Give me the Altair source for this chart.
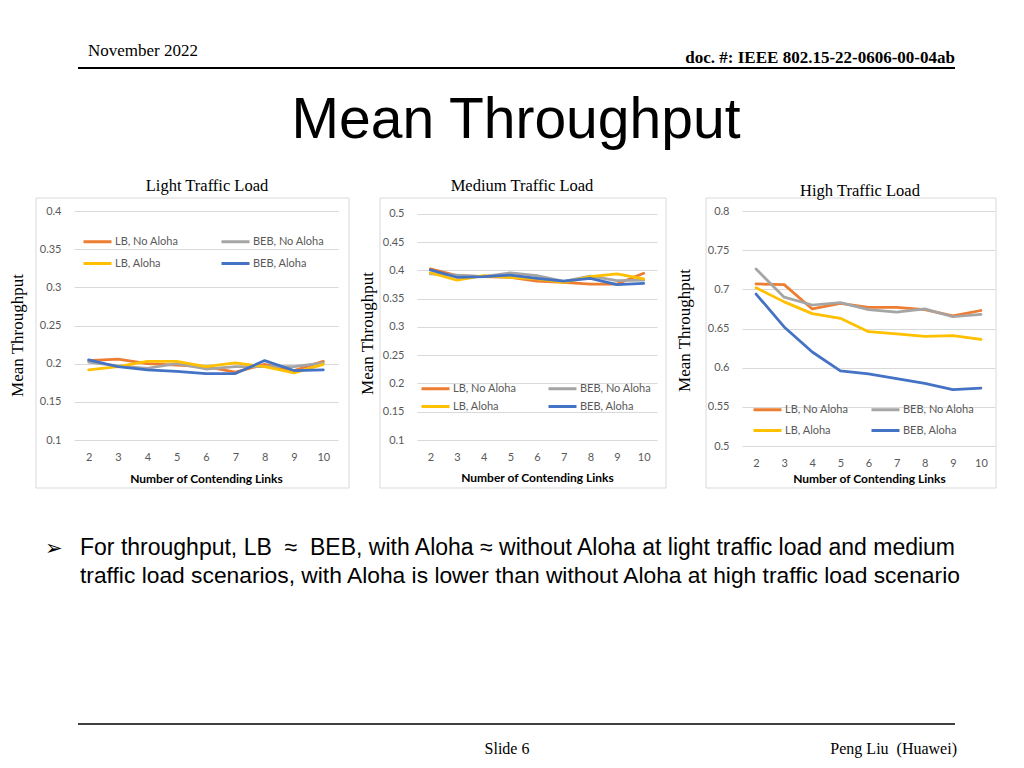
import altair as alt
import pandas as pd

links = [2, 3, 4, 5, 6, 7, 8, 9, 10]
series = ["LB, No Aloha", "BEB, No Aloha", "LB, Aloha", "BEB, Aloha"]
colors = ["#ED7D31", "#A5A5A5", "#FFC000", "#4472C4"]

light_lb_noaloha = [0.204, 0.206, 0.200, 0.198, 0.196, 0.189, 0.199, 0.191, 0.203]
light_beb_noaloha = [0.202, 0.197, 0.194, 0.200, 0.193, 0.196, 0.196, 0.196, 0.201]
light_lb_aloha = [0.192, 0.196, 0.203, 0.203, 0.196, 0.201, 0.196, 0.188, 0.199]
light_beb_aloha = [0.205, 0.196, 0.192, 0.190, 0.187, 0.187, 0.204, 0.191, 0.192]

medium_lb_noaloha = [0.403, 0.391, 0.389, 0.388, 0.381, 0.379, 0.376, 0.376, 0.395]
medium_beb_noaloha = [0.394, 0.392, 0.389, 0.396, 0.391, 0.381, 0.390, 0.382, 0.383]
medium_lb_aloha = [0.396, 0.383, 0.391, 0.388, 0.385, 0.379, 0.389, 0.394, 0.385]
medium_beb_aloha = [0.401, 0.388, 0.389, 0.392, 0.386, 0.381, 0.386, 0.375, 0.377]

high_lb_noaloha = [0.707, 0.706, 0.675, 0.682, 0.677, 0.677, 0.674, 0.666, 0.673]
high_beb_noaloha = [0.726, 0.690, 0.680, 0.683, 0.674, 0.671, 0.675, 0.665, 0.668]
high_lb_aloha = [0.702, 0.684, 0.669, 0.663, 0.646, 0.643, 0.640, 0.641, 0.636]
high_beb_aloha = [0.694, 0.652, 0.620, 0.596, 0.592, 0.586, 0.580, 0.572, 0.574]

light_ticks = [0.1, 0.15, 0.2, 0.25, 0.3, 0.35, 0.4]
medium_ticks = [0.1, 0.15, 0.2, 0.25, 0.3, 0.35, 0.4, 0.45, 0.5]
high_ticks = [0.5, 0.55, 0.6, 0.65, 0.7, 0.75, 0.8]

header_left = "November 2022"
header_right = "doc. #: IEEE 802.15-22-0606-00-04ab"
slide_title = "Mean Throughput"
panel_titles = ["Light Traffic Load", "Medium Traffic Load", "High Traffic Load"]
bullet_mark = "\u27a2"
bullet_lines = [
    "For throughput, LB\u00a0\u00a0\u2248\u00a0\u00a0BEB, with Aloha \u2248 without Aloha at light traffic load and medium",
    "traffic load scenarios, with Aloha is lower than without Aloha at high traffic load scenario",
]
footer_center = "Slide 6"
footer_right = "Peng Liu\u00a0\u00a0(Huawei)"

LABEL_FONT = "Lato"
SERIF = "Liberation Serif"
SANS = "Liberation Sans"


def long_frame(cols):
    rows = []
    for s, vals in zip(series, cols):
        for l, v in zip(links, vals):
            rows.append({"links": l, "series": s, "value": v})
    return pd.DataFrame(rows)


def one(text):
    return pd.DataFrame({"t": [text]})


def text_layer(text, x, y, size, font, align="left", weight="normal", color="black", baseline="alphabetic"):
    return alt.Chart(one(text)).mark_text(
        font=font, fontSize=size, align=align, baseline=baseline, fontWeight=weight, color=color
    ).encode(text="t:N", x=alt.value(x), y=alt.value(y))


def rule_layer(x1, x2, y, width):
    return alt.Chart(one("")).mark_rule(color="black", strokeWidth=width).encode(
        x=alt.value(x1), x2=alt.value(x2), y=alt.value(y)
    )


def box_layer(x1, x2, y1, y2, stroke="#d9d9d9", opacity=1.0):
    return alt.Chart(one("")).mark_rect(
        fillOpacity=0, stroke=stroke, strokeWidth=1, strokeOpacity=opacity
    ).encode(x=alt.value(x1), x2=alt.value(x2), y=alt.value(y1), y2=alt.value(y2))


def panel(df, ydomain, yticks, xrange, ytx, yty, xtx, xty, lx, ly, colpad, rowpad):
    xscale = alt.Scale(type="point", padding=0.5)
    if xrange is not None:
        xscale = alt.Scale(type="point", padding=0.5, range=xrange)
    return alt.Chart(df).mark_line(strokeWidth=2.75, strokeJoin="round", strokeCap="round").encode(
        x=alt.X(
            "links:O", scale=xscale, sort=links,
            axis=alt.Axis(
                title="Number of Contending Links", labelAngle=0, grid=False, domain=False, ticks=False,
                labelPadding=11, labelFont=LABEL_FONT, labelFontSize=11, labelColor="#595959",
                titleFont=LABEL_FONT, titleFontSize=12, titleFontWeight="bold", titleColor="black",
                titleX=xtx, titleY=xty, titleBaseline="middle", titleAlign="center",
            ),
        ),
        y=alt.Y(
            "value:Q", scale=alt.Scale(domain=ydomain, nice=False, zero=False),
            axis=alt.Axis(
                values=yticks, format=".2~f", title="Mean Throughput", grid=True, gridColor="#d9d9d9",
                domain=False, ticks=False, labelPadding=13, labelFont=LABEL_FONT, labelFontSize=11,
                labelColor="#595959", titleFont=SERIF, titleFontSize=17, titleFontWeight="normal",
                titleColor="black", titleX=ytx, titleY=yty, titleAngle=270, titleBaseline="middle",
                titleAlign="center",
            ),
        ),
        color=alt.Color(
            "series:N", scale=alt.Scale(domain=series, range=colors),
            legend=alt.Legend(
                title=None, orient="none", legendX=lx, legendY=ly, columns=2, direction="horizontal",
                symbolType="M-2,0H2", symbolStrokeWidth=3, symbolSize=196, labelFont=LABEL_FONT,
                labelFontSize=11, labelColor="#595959", labelOffset=9, columnPadding=colpad,
                rowPadding=rowpad,
            ),
        ),
    )


light_df = long_frame([light_lb_noaloha, light_beb_noaloha, light_lb_aloha, light_beb_aloha])
medium_df = long_frame([medium_lb_noaloha, medium_beb_noaloha, medium_lb_aloha, medium_beb_aloha])
high_df = long_frame([high_lb_noaloha, high_beb_noaloha, high_lb_aloha, high_beb_aloha])

# Panel 1 (origin at page 74, 211)
l1 = panel(light_df, [0.1, 0.4], light_ticks, None, -57, 124, 132, 38, 15, 22, 36, 7)
p1 = alt.layer(
    box_layer(-66, 942, -203, 549, stroke="white", opacity=0),
    box_layer(-38, 275, -13, 277),
    l1,
    text_layer(header_left, 14, -155, 17, SERIF),
    text_layer(header_right, 881, -148, 17, SERIF, align="right", weight="bold"),
    rule_layer(4, 881, -143, 2),
    text_layer(slide_title, 442, -73, 57, SANS, align="center"),
    text_layer(panel_titles[0], 133, -20, 16.5, SERIF, align="center"),
    text_layer(bullet_mark, -29, 344, 21, "DejaVu Sans"),
    text_layer(bullet_lines[0], 6, 344, 23, SANS),
    text_layer(bullet_lines[1], 6, 372, 22.8, SANS),
    rule_layer(4, 881, 513, 1.5),
    text_layer(footer_center, 433, 543, 16, SERIF, align="center"),
    text_layer(footer_right, 883, 543, 16, SERIF, align="right"),
).properties(width=264, height=229)

# Panel 2 (origin at page 417, 211)
l2 = panel(medium_df, [0.1, 0.5053], medium_ticks, [0, 240], -50, 122, 120, 37, 10, 169, 25, 3)
p2 = alt.layer(
    box_layer(-37, 249, -13, 277),
    l2,
    text_layer(panel_titles[1], 105, -20, 16.5, SERIF, align="center"),
).properties(width=246, height=229)

# Panel 3 (origin at page 742, 211)
l3 = panel(high_df, [0.5, 0.8], high_ticks, None, -58, 119, 127, 32, 17, 190, 16, 6)
p3 = alt.layer(
    box_layer(-36, 254, -13, 277),
    l3,
    text_layer(panel_titles[2], 118, -15, 16.5, SERIF, align="center"),
).properties(width=253, height=235)

chart = alt.hconcat(p1, p2, p3, spacing=79, bounds="flush").resolve_scale(
    color="independent"
).resolve_legend(color="independent").properties(padding=0).configure_view(stroke=None)

chart.save("out.html", embed_options={"renderer": "svg", "actions": False})
